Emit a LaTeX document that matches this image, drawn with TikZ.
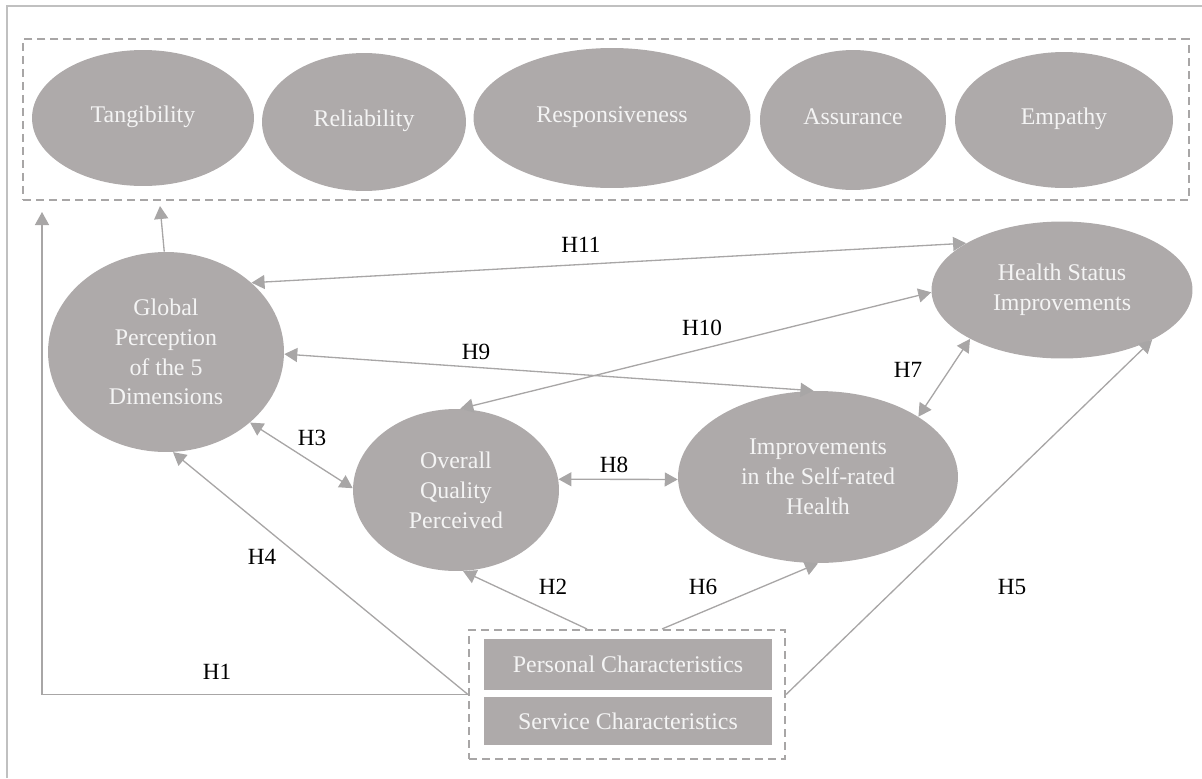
\documentclass[tikz,border=0pt]{standalone}
\usepackage{fontspec}
\setmainfont{Liberation Serif}
\usetikzlibrary{shapes.geometric,arrows.meta,calc}
\definecolor{dimfill}{HTML}{AEAAAA}
\definecolor{dimtext}{HTML}{F4F4F4}
\definecolor{linkgray}{HTML}{A8A6A6}
\definecolor{framegray}{HTML}{C0C0C0}
\tikzset{
  dimnode/.style={ellipse, fill=dimfill, text=dimtext, inner sep=0pt, align=center, font=\fontsize{13.6}{17}\selectfont},
  topdim/.style={dimnode, text height=1.6ex, text depth=0.5ex},
  charbox/.style={rectangle, fill=dimfill, text=dimtext, inner sep=0pt, minimum width=5.76cm, font=\fontsize{13.6}{17}\selectfont},
  dashbox/.style={draw=linkgray, line width=1.2pt, dash pattern=on 4.6pt off 2.8pt},
  link/.style={draw=linkgray, line width=0.75pt, -{Triangle[length=0.26cm,width=0.28cm]}},
  twoway/.style={link, {Triangle[length=0.26cm,width=0.28cm]}-{Triangle[length=0.26cm,width=0.28cm]}},
  hlab/.style={inner sep=0pt, font=\fontsize{13.2}{15}\selectfont}
}
\begin{document}
\begin{tikzpicture}[x=0.02cm, y=-0.02cm]
  \useasboundingbox (0,0) rectangle (1202,778);
  \draw[framegray, line width=0.85pt] (7,778) -- (7,6) -- (1202,6);
  % the five dimensions
  \node[dashbox, minimum width=23.32cm, minimum height=3.22cm] (dims) at (606,119.5) {};
  \node[topdim, minimum width=4.44cm, minimum height=2.72cm] (tang) at (143,118) {Tangibility};
  \node[topdim, minimum width=4.08cm, minimum height=2.76cm] (reli) at (364,122) {Reliability};
  \node[topdim, minimum width=5.54cm, minimum height=2.8cm] (resp) at (612,118) {Responsiveness};
  \node[topdim, minimum width=3.72cm, minimum height=2.8cm] (assu) at (853,120) {Assurance};
  \node[topdim, minimum width=4.36cm, minimum height=2.72cm] (empa) at (1064,120) {Empathy};
  \coordinate (tH1) at (42,212);
  \coordinate (tGP) at (160,206);
  \node[dimnode, minimum width=4.72cm, minimum height=4cm] (glob) at (166,352) {Global\\Perception\\of the 5\\Dimensions};
  \node[dimnode, minimum width=4.12cm, minimum height=3.24cm] (over) at (456,490) {Overall\\Quality\\Perceived};
  \node[dimnode, minimum width=5.6cm, minimum height=3.44cm] (impr) at (818,477) {Improvements\\in the Self-rated\\Health};
  \node[dimnode, minimum width=5.22cm, minimum height=2.74cm] (hsi) at (1062,290) {Health Status\\Improvements};
  % characteristics
  \node[dashbox, minimum width=6.32cm, minimum height=2.58cm] (chars) at (627,694.5) {};
  \node[charbox, minimum height=1.02cm] (pers) at (628,664.5) {Personal Characteristics};
  \node[charbox, minimum height=0.96cm] (serv) at (628,721) {Service Characteristics};
  \draw[link] (glob.91) -- (tGP);
  \draw[link] (chars.west) -| (tH1);
  \draw[link] (chars.west) -- (glob.-86);
  \draw[link] ($(chars.north)+(-40,0)$) -- (over.-85);
  \draw[link] ($(chars.north)+(35,0)$) -- (impr.-90);
  \draw[link] (chars.east) -- (hsi.-29);
  \draw[twoway] (glob.-40) -- (over.179);
  \draw[twoway] (over.6) -- (impr.181);
  \draw[twoway] (hsi.208) -- (impr.31);
  \draw[twoway] (glob.-1) -- (impr.93);
  \draw[twoway] (over.87) -- (hsi.181);
  \draw[twoway] (glob.39) -- (hsi.154);
  \node[hlab] (lH1) at (217,672) {H1};
  \node[hlab] (lH2) at (553,587) {H2};
  \node[hlab] (lH3) at (312,438) {H3};
  \node[hlab] (lH4) at (262,557) {H4};
  \node[hlab] (lH5) at (1012,587) {H5};
  \node[hlab] (lH6) at (703,587) {H6};
  \node[hlab] (lH7) at (908,370) {H7};
  \node[hlab] (lH8) at (614,465) {H8};
  \node[hlab] (lH9) at (476,352) {H9};
  \node[hlab] (lH10) at (702,328) {H10};
  \node[hlab] (lH11) at (581,245) {H11};
\end{tikzpicture}
\end{document}
